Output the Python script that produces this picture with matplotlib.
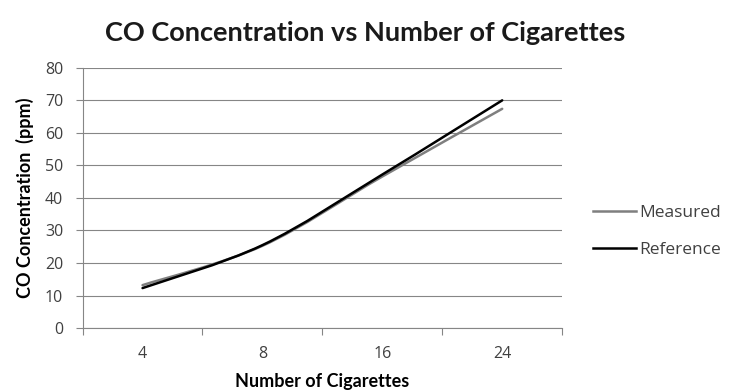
import numpy as np
import matplotlib
matplotlib.use('Agg')
import matplotlib.pyplot as plt
from matplotlib.path import Path
from matplotlib.patches import PathPatch
from matplotlib.lines import Line2D

plt.rcParams['font.family'] = ['Lato', 'DejaVu Sans']

cigarettes = ['4', '8', '16', '24']
measured = [13.2, 25.3, 46.6, 67.4]
reference = [12.3, 25.5, 47.2, 70.0]

GRID = '#868686'
TICK = '#404040'


def smooth_path(ys):
    # excel-like smoothed line: cubic bezier through the points
    xs = np.arange(len(ys), dtype=float)
    pts = np.column_stack([xs, ys])
    verts = [pts[0]]
    codes = [Path.MOVETO]
    n = len(pts)
    for i in range(n - 1):
        p0 = pts[max(i - 1, 0)]
        p1 = pts[i]
        p2 = pts[i + 1]
        p3 = pts[min(i + 2, n - 1)]
        verts += [p1 + (p2 - p0) / 6, p2 - (p3 - p1) / 6, p2]
        codes += [Path.CURVE4] * 3
    return Path(verts, codes)


fig = plt.figure(figsize=(7.31, 3.92), dpi=100)
ax = fig.add_axes([0.113, 0.163, 0.656, 0.664])

for ys, col in [(measured, '#7f7f7f'), (reference, '#000000')]:
    ax.add_patch(PathPatch(smooth_path(ys), facecolor='none', edgecolor=col,
                           lw=1.8, capstyle='round', zorder=3))

ax.set_xlim(-0.5, 3.5)
ax.set_ylim(0, 80)
ax.set_yticks(range(0, 81, 10))
ax.set_xticks(range(len(cigarettes)))
ax.set_xticklabels(cigarettes)
ax.set_xticks(np.arange(-0.5, 3.6, 1), minor=True)
ax.tick_params(axis='x', which='major', length=0, pad=13, labelsize=11.5, colors=TICK)
ax.tick_params(axis='x', which='minor', length=5, width=0.8, color=GRID)
ax.tick_params(axis='y', length=5, width=0.8, color=GRID, labelsize=11.5,
               labelcolor=TICK, pad=9)
for lab in ax.get_xticklabels() + ax.get_yticklabels():
    lab.set_family(['Open Sans', 'DejaVu Sans'])
ax.grid(axis='y', color=GRID, lw=0.8)
ax.set_axisbelow(True)
for s in ['top', 'right']:
    ax.spines[s].set_visible(False)
for s in ['left', 'bottom']:
    ax.spines[s].set_color(GRID)
    ax.spines[s].set_linewidth(0.8)

fig.text(0.5, 0.915, 'CO Concentration vs Number of Cigarettes', ha='center',
         va='center', fontsize=19.5, fontweight='bold', color='#1a1a1a')
ax.set_xlabel('Number of Cigarettes', fontsize=13, fontweight='bold', labelpad=8)
ax.set_ylabel('CO Concentration  (ppm)', fontsize=13, fontweight='bold', labelpad=8)

handles = [Line2D([], [], color='#7f7f7f', lw=1.8),
           Line2D([], [], color='#000000', lw=1.8)]
fig.legend(handles, ['Measured', 'Reference'], loc='upper left',
           bbox_to_anchor=(0.811, 0.478), frameon=False, borderpad=0,
           borderaxespad=0, prop={'family': ['Open Sans', 'DejaVu Sans'], 'size': 12.5},
           handlelength=2.5, handletextpad=0.2, labelspacing=1.2,
           labelcolor=TICK)

fig.savefig('out.png', dpi=100)
